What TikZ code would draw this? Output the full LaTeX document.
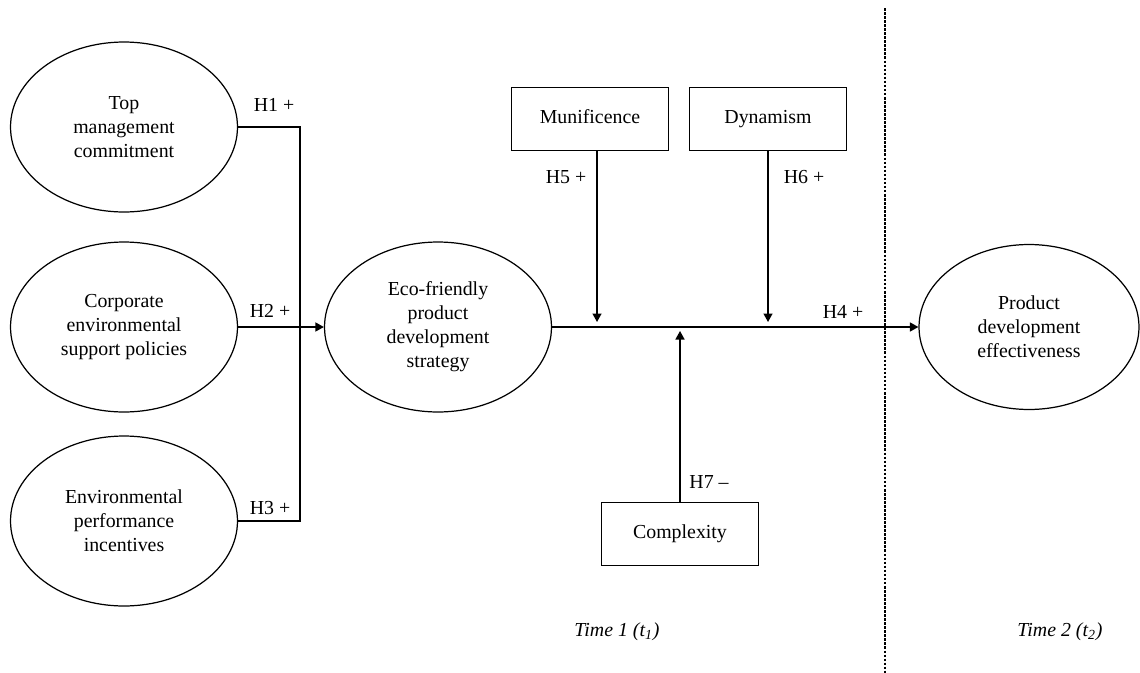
\documentclass[tikz,border=0pt]{standalone}
\usepackage{fontspec}
\setmainfont{Liberation Serif}
\usepackage{tikz}
\usetikzlibrary{arrows.meta}
\usetikzlibrary{positioning,shapes.geometric}
\tikzset{
    construct/.style={
        draw,
        ellipse,
        line width=0.7pt,
        minimum width=4.54cm,
        minimum height=3.4cm,
        inner sep=0pt,
        align=center,
        font=\fontsize{11.3}{13.7}\selectfont
    },
    envbox/.style={
        draw,
        rectangle,
        line width=0.8pt,
        minimum width=3.14cm,
        minimum height=1.27cm,
        text height=1.6ex,
        text depth=0.5ex,
        font=\fontsize{11.3}{13.7}\selectfont
    },
    hyp/.style={
        font=\fontsize{11.3}{13.7}\selectfont,
        inner sep=0pt
    },
    path/.style={
        line width=0.8pt
    },
    effect/.style={
        line width=0.8pt,
        -{Triangle[length=1.7mm, width=1.8mm]}
    }
}

\begin{document}
\begin{tikzpicture}[x=0.02cm, y=-0.02cm]
    \useasboundingbox (0,0) rectangle (1140,673);

    % constructs
    \node[construct] (tmc) at (124,127) {Top\\management\\commitment};
    \node[construct] (cesp) at (124,327) {Corporate\\environmental\\support policies};
    \node[construct] (epi) at (124,521) {Environmental\\performance\\incentives};
    \node[construct] (efpd) at (438,327) {Eco-friendly\\product\\development\\strategy};
    \node[construct, minimum width=4.4cm, minimum height=3.3cm] (pde) at (1029,327) {Product\\development\\effectiveness};

    % moderators
    \node[envbox] (muni) at (590,119) {Munificence};
    \node[envbox] (dyn) at (768,119) {Dynamism};
    \node[envbox] (cplx) at (680,534) {Complexity};

    % time divider
    \draw[line width=0.6pt, dash pattern=on 1.5pt off 0.8pt] (885,8) -- (885,673);

    % antecedents
    \coordinate (jtop) at (300,127);
    \coordinate (jbot) at (300,521);
    \draw[path] (tmc.east) -- (jtop) -- (jbot) -- (epi.east);
    \draw[effect] (cesp.east) -- (efpd.west);

    % main effect and moderation
    \draw[effect] (efpd.east) -- (pde.west);
    \coordinate (m5) at (597,327);
    \coordinate (m6) at (768,327);
    \coordinate (m7) at (680,327);
    \draw[effect, shorten >=1mm] (m5 |- muni.south) -- (m5);
    \draw[effect, shorten >=1mm] (dyn.south) -- (m6);
    \draw[effect, shorten >=0.8mm] (cplx.north) -- (m7);

    % hypotheses
    \node[hyp] (h1) at (274,105) {H1 +};
    \node[hyp] (h2) at (270,311) {H2 +};
    \node[hyp] (h3) at (270,508) {H3 +};
    \node[hyp] (h4) at (843,312) {H4 +};
    \node[hyp] (h5) at (566,177) {H5 +};
    \node[hyp] (h6) at (804,177) {H6 +};
    \node[hyp] (h7) at (709,482) {H7 –};

    % periods
    \node[hyp] (t1) at (617,632) {\textit{Time 1 (t\textsubscript{1})}};
    \node[hyp] (t2) at (1060,632) {\textit{Time 2 (t\textsubscript{2})}};
\end{tikzpicture}
\end{document}
